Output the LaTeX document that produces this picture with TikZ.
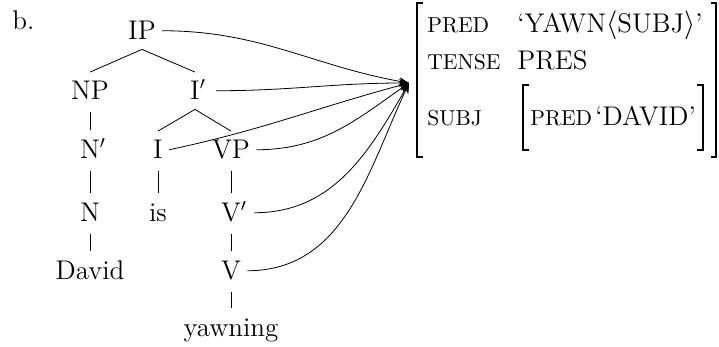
\documentclass[tikz,border=0pt]{standalone}
\usepackage{fontspec}
\usetikzlibrary{arrows.meta}
\newcommand\featname[1]{{\fontsize{10.8}{12}\selectfont #1}}
\begin{document}
\begin{tikzpicture}[x=0.5pt, y=-0.5pt,
    font=\fontsize{13.5}{16}\selectfont,
    cat/.style={inner xsep=3pt, inner ysep=4.5pt, text height=9.25pt, text depth=0pt},
    stem/.style={shorten <=1.5pt, shorten >=0.75pt},
    attr/.style={anchor=base west, inner sep=0pt},
    link/.style={-{Stealth[length=5pt,width=4pt]}},
    brk/.style={line width=0.7pt}]
    \useasboundingbox (0,0) rectangle (719,347);
    \node[attr] (lbl) at (12,30) {b.};

    % c-structure
    \node[cat] (IP) at (142,30.75) {IP};
    \node[cat] (NP) at (90,90.75) {NP};
    \node[cat] (Ibar) at (195,90.75) {I\rlap{$'$}};
    \node[cat] (Nbar) at (90,149.75) {N\rlap{$'$}};
    \node[cat] (I) at (158,149.75) {I};
    \node[cat] (VP) at (231,149.75) {VP};
    \node[cat] (N) at (90,212.75) {N};
    \node[cat] (is) at (158,212.75) {is};
    \node[cat] (Vbar) at (231,212.75) {V\rlap{$'$}};
    \node[cat] (David) at (90,270.75) {David};
    \node[cat] (V) at (231,270.75) {V};
    \node[cat] (yawning) at (231,327.75) {yawning};

    \draw (IP.south) -- (NP.north);
    \draw (IP.south) -- (Ibar.north);
    \draw (Ibar.south) -- (I.north);
    \draw (Ibar.south) -- (VP.north);
    \draw[stem] (NP.south) -- (Nbar.north);
    \draw[stem] (Nbar.south) -- (N.north);
    \draw[stem] (N.south) -- (David.north);
    \draw[stem] (I.south) -- (is.north);
    \draw[stem] (VP.south) -- (Vbar.north);
    \draw[stem] (Vbar.south) -- (V.north);
    \draw[stem] (V.south) -- (yawning.north);

    % f-structure
    \coordinate (fs) at (409,83);
    \draw[brk] (423,3) -- (417,3) -- (417,157) -- (423,157);
    \draw[brk] (711,3) -- (716,3) -- (716,157) -- (711,157);
    \draw[brk] (529,85) -- (523,85) -- (523,150) -- (529,150);
    \draw[brk] (697,85) -- (703,85) -- (703,150) -- (697,150);
    \node[attr] (pred) at (427,33) {\featname{PRED}};
    \node[attr] (predval) at (517,33) {‘YAWN$\langle$SUBJ$\rangle$’};
    \node[attr] (tense) at (427,70) {\featname{TENSE}};
    \node[attr] (tenseval) at (517,70) {PRES};
    \node[attr] (subj) at (427,126) {\featname{SUBJ}};
    \node[attr] (subjpred) at (530,126) {\featname{PRED}};
    \node[attr] (subjval) at (595,126) {‘DAVID’};

    % projection
    \draw[link] (IP.east) to[out=0, in=170] (fs);
    \draw[link] ([xshift=5pt]Ibar.east) to[out=0, in=180] (fs);
    \draw[link] (I.east) to[out=12, in=195] (fs);
    \draw[link] (VP.east) to[out=0, in=215] (fs);
    \draw[link] ([xshift=3.5pt]Vbar.east) to[out=0, in=240] (fs);
    \draw[link] (V.east) to[out=0, in=245] (fs);
\end{tikzpicture}
\end{document}
